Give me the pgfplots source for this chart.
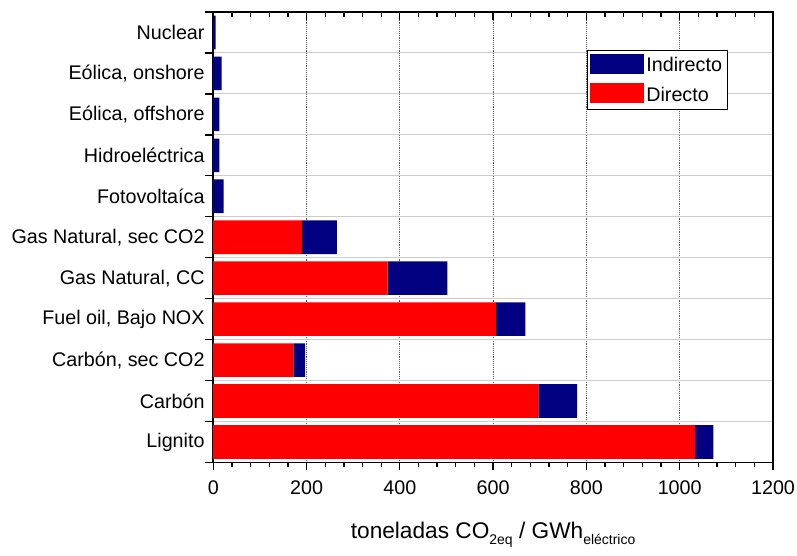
\documentclass[border=0pt]{standalone}
\usepackage{pgfplots}
\pgfplotsset{compat=1.18}
\usepackage{fontspec}
\setmainfont{Liberation Sans}
\definecolor{navyb}{RGB}{0,0,128}
\definecolor{redb}{RGB}{255,0,0}
\begin{document}
\begin{tikzpicture}
\useasboundingbox (-160pt,-70pt) rectangle (438pt,347pt);
\pgfplotsset{every axis/.append style={font=\fontsize{14.8}{17}\selectfont}}
\begin{axis}[
  name=main,
  at={(0,0)}, anchor=south west,
  xbar stacked,
  scale only axis, width=420pt, height=338pt,
  xmin=0, xmax=1200, ymin=-0.5, ymax=10.5,
  bar width=0.82,
  xtick={0,200,...,1200}, minor x tick num=4,
  xtick pos=bottom, ytick pos=left,
  tick align=outside,
  major tick length=6pt, minor tick length=3.5pt,
  every tick/.style={black, line width=1pt},
  ytick={-0.5,0.5,...,10.5}, yticklabels={},
  extra y ticks={0,...,10},
  extra y tick labels={Lignito,Carbón,{Carbón, sec CO2},{Fuel oil, Bajo NOX},{Gas Natural, CC},{Gas Natural, sec CO2},Fotovoltaíca,Hidroeléctrica,{Eólica, offshore},{Eólica, onshore},Nuclear},
  extra y tick style={major tick length=0pt, grid=none},
  yticklabel style={xshift=-3pt},
  xticklabel style={yshift=-4pt},
  ymajorgrids, xmajorgrids,
  y grid style={gray!40, line width=0.8pt},
  x grid style={densely dotted, gray!70!black, line width=0.6pt},
  axis line style={line width=1.2pt},
  /pgf/number format/assume math mode=true,
  /pgf/number format/1000 sep={},
  xlabel={toneladas CO\raisebox{-4.5pt}{\fontsize{10.5}{11}\selectfont 2eq} / GWh\raisebox{-4.5pt}{\fontsize{10.5}{11}\selectfont eléctrico}},
  xlabel style={at={(axis description cs:0.5,0)}, anchor=base, yshift=-57pt, font=\fontsize{17}{20}\selectfont},
  reverse legend,
  legend cell align=left,
  legend style={at={(0.668,0.916)}, anchor=north west, draw=black, line width=0.8pt,
    font=\fontsize{14.8}{17}\selectfont, row sep=5pt, inner xsep=2pt, inner ysep=2.5pt},
  legend image code/.code={\fill[#1] (0pt,-6pt) rectangle (40pt,9pt);},
]
\addplot[fill=redb, draw=none] coordinates {
  (1033,0) (697,1) (172,2) (606,3) (374,4) (190,5) (0,6) (0,7) (0,8) (0,9) (0,10)};
\addlegendentry{Directo}
\addplot[fill=navyb, draw=none] coordinates {
  (39,0) (83,1) (25,2) (63,3) (128,4) (75,5) (22,6) (13,7) (13,8) (18,9) (5,10)};
\addlegendentry{Indirecto}
\end{axis}
\begin{axis}[
  at={(0,0)}, anchor=south west,
  scale only axis, width=420pt, height=338pt,
  xmin=0, xmax=1200, ymin=-0.5, ymax=10.5,
  axis x line*=top, axis y line=none,
  xtick={0,200,...,1200}, minor x tick num=4, xticklabels={},
  tick align=inside,
  major tick length=6pt, minor tick length=3.5pt,
  every tick/.style={black, line width=1pt},
  axis line style={draw=none},
]
\end{axis}
\end{tikzpicture}
\end{document}
